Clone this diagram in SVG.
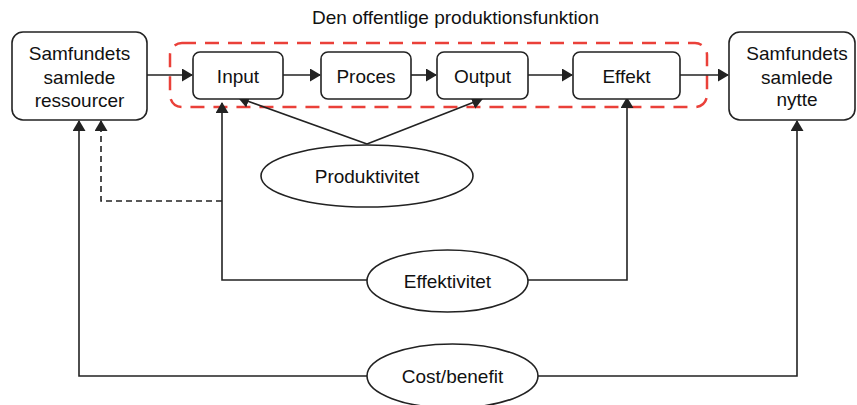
<svg xmlns="http://www.w3.org/2000/svg" width="857" height="405" viewBox="0 0 857 405">
<style>
.box{fill:#fff;stroke:#222;stroke-width:1.6}
.ell{fill:#fff;stroke:#222;stroke-width:1.6}
.t{font-family:"Liberation Sans",Arial,sans-serif;font-size:19px;fill:#111;text-anchor:middle}
.c{fill:none;stroke:#222;stroke-width:1.6}
.d{fill:none;stroke:#222;stroke-width:1.6;stroke-dasharray:6 4}
.red{fill:none;stroke:#ea4039;stroke-width:2.5;stroke-dasharray:14 9}
</style>
<defs>
<marker id="ah" markerUnits="userSpaceOnUse" markerWidth="11" markerHeight="13" refX="10" refY="6.5" orient="auto">
<path d="M0,0 L11,6.5 L0,13 z" fill="#222"/>
</marker>
</defs>
<rect width="857" height="405" fill="#fff"/>
<text class="t" x="312" y="24" style="text-anchor:start">Den offentlige produktionsfunktion</text>
<rect id="group-frame" class="red" x="170" y="43" width="537" height="64" rx="12"/>
<g id="connectors">
<path class="c" d="M147,75 H192" marker-end="url(#ah)"/>
<path class="c" d="M283,75 H320" marker-end="url(#ah)"/>
<path class="c" d="M411,75 H436" marker-end="url(#ah)"/>
<path class="c" d="M528,75 H572" marker-end="url(#ah)"/>
<path class="c" d="M680,75 H728" marker-end="url(#ah)"/>
<path class="c" d="M367,144 L239,98" marker-end="url(#ah)"/>
<path class="c" d="M367,144 L482,99" marker-end="url(#ah)"/>
<path class="c" d="M367,280 H222 V103" marker-end="url(#ah)"/>
<path class="d" d="M222,201 H101 V121" marker-end="url(#ah)"/>
<path class="c" d="M527,280 H627 V98" marker-end="url(#ah)"/>
<path class="c" d="M367,376 H79 V121" marker-end="url(#ah)"/>
<path class="c" d="M538,376 H797 V121" marker-end="url(#ah)"/>
</g>
<g id="ressourcer">
<rect class="box" x="12" y="32" width="135" height="88" rx="11"/>
<text class="t" x="79.5" y="60">Samfundets</text>
<text class="t" x="79.5" y="84">samlede</text>
<text class="t" x="79.5" y="107">ressourcer</text>
</g>
<g id="input">
<rect class="box" x="193" y="52" width="90" height="47" rx="7"/>
<text class="t" x="238" y="83">Input</text>
</g>
<g id="proces">
<rect class="box" x="321" y="52" width="90" height="47" rx="7"/>
<text class="t" x="366" y="83">Proces</text>
</g>
<g id="output">
<rect class="box" x="437" y="52" width="91" height="47" rx="7"/>
<text class="t" x="482.5" y="83">Output</text>
</g>
<g id="effekt">
<rect class="box" x="573" y="52" width="107" height="47" rx="7"/>
<text class="t" x="626.5" y="83">Effekt</text>
</g>
<g id="nytte">
<rect class="box" x="729" y="32" width="126" height="88" rx="11"/>
<text class="t" x="797" y="60">Samfundets</text>
<text class="t" x="797" y="84">samlede</text>
<text class="t" x="797" y="106">nytte</text>
</g>
<g id="produktivitet">
<ellipse class="ell" cx="367" cy="176" rx="106" ry="31"/>
<text class="t" x="367" y="183">Produktivitet</text>
</g>
<g id="effektivitet">
<ellipse class="ell" cx="447.5" cy="281" rx="80.5" ry="31"/>
<text class="t" x="447.5" y="288">Effektivitet</text>
</g>
<g id="costbenefit">
<ellipse class="ell" cx="452.5" cy="376" rx="85.5" ry="32"/>
<text class="t" x="452.5" y="383">Cost/benefit</text>
</g>
</svg>
